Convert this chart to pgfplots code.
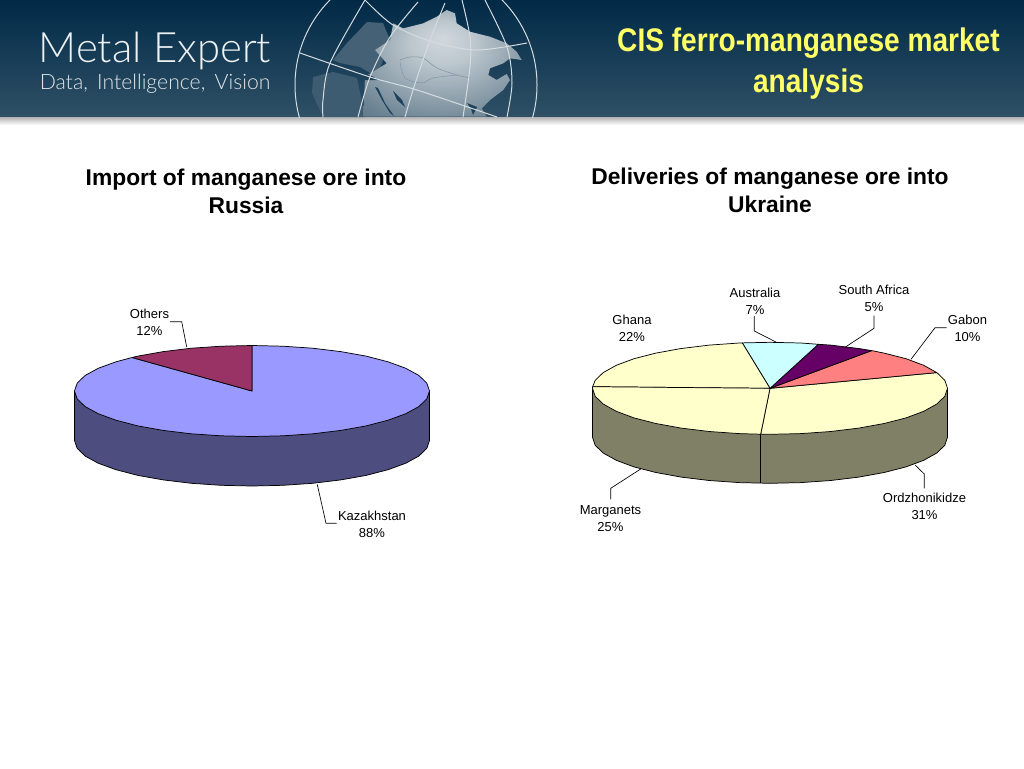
\documentclass[border=0pt]{standalone}
\usepackage{fontspec}
\usepackage{pgfplots}
\pgfplotsset{compat=1.18}
\setmainfont{Liberation Sans}
\newfontfamily\logofont{Lato Light}
\definecolor{pieblue}{HTML}{9999FF}
\definecolor{pieblueside}{HTML}{4D4D80}
\definecolor{plum}{HTML}{993366}
\definecolor{cream}{HTML}{FFFFCC}
\definecolor{creamside}{HTML}{808066}
\definecolor{icy}{HTML}{CCFFFF}
\definecolor{grape}{HTML}{660066}
\definecolor{salmon}{HTML}{FF8080}
\definecolor{titleyellow}{HTML}{FFFF66}
\definecolor{headtop}{HTML}{012A47}
\definecolor{headbot}{HTML}{2F5066}
\definecolor{seadark}{HTML}{1F425C}
\pgfdeclareradialshading{landglow}{\pgfpoint{0bp}{12bp}}{%
  color(0bp)=(white!78!headbot); color(10bp)=(white!68!headbot);
  color(22bp)=(white!48!headbot); color(34bp)=(white!28!headbot); color(50bp)=(white!12!headbot)}
\begin{document}
\begin{tikzpicture}[
  pie/.style={draw=black, line width=0.55pt, line join=round},
  leader/.style={draw=black, line width=0.5pt},
  grid line/.style={draw=white!80!headbot, line width=0.75pt, smooth},
  border line/.style={draw=white!40!headbot, line width=0.4pt, smooth},
  lab/.style={align=center, font=\fontsize{9.75}{12.75}\selectfont, inner sep=0pt},
  subtitle/.style={align=center, font=\fontsize{17.1}{21}\selectfont\bfseries, inner sep=0pt},
]
\begin{axis}[
  width=768pt, height=576pt, scale only axis,
  xmin=0, xmax=1024, ymin=0, ymax=768, y dir=reverse,
  hide axis, clip=true,
]
% page background and banner
\fill[white] (axis cs:0,0) rectangle (axis cs:1024,768);
\shade[top color=headtop, bottom color=headbot] (axis cs:0,0) rectangle (axis cs:1024,117);
\shade[top color=black!30, bottom color=white] (axis cs:0,117) rectangle (axis cs:1024,125);
% globe
\begin{scope}
\clip (axis cs:0,0) rectangle (axis cs:1024,117.5);
\addplot[fill=white!7!headbot, draw=none] coordinates {
  (313,77) (333,72) (357,78) (365,117) (323,117) (312,93)} -- cycle;
\addplot[fill=white!10!headbot, draw=none] coordinates {
  (333,60) (347,43) (367,22) (383,23) (390,40) (375,50) (383,60) (377,77) (360,67) (340,63)} -- cycle;
\shade[shading=landglow, draw=none]
  (axis cs:375,50) -- (axis cs:390,40) -- (axis cs:393.3,23.3) -- (axis cs:403.3,28.3) -- (axis cs:423.3,23.3)
  -- (axis cs:436.7,16.7) -- (axis cs:446.7,10) -- (axis cs:455,13.3) -- (axis cs:456.7,23.3) -- (axis cs:470,31.7)
  -- (axis cs:490,36.7) -- (axis cs:506.7,43.3) -- (axis cs:516.7,51.7) -- (axis cs:521.7,60) -- (axis cs:510,58.3)
  -- (axis cs:503.3,63.3) -- (axis cs:490,68.3) -- (axis cs:488.3,75) -- (axis cs:496.7,80) -- (axis cs:506.7,74)
  -- (axis cs:510,80) -- (axis cs:503.3,90) -- (axis cs:490,100) -- (axis cs:481.7,108.3) -- (axis cs:486.7,116.7)
  -- (axis cs:363.3,116.7) -- (axis cs:365,76.7) -- (axis cs:386.7,63.3) -- cycle;
% gulfs and inner seas
\addplot[fill=seadark, draw=none] coordinates {(375,87) (382,100) (390,113) (394,116) (385,103) (378,88)} -- cycle;
\addplot[fill=seadark, draw=none] coordinates {(393,91) (402,100) (405,107) (397,100)} -- cycle;
\addplot[fill=seadark, draw=none] coordinates {(467,103) (477,107) (473,115) (471,109)} -- cycle;
\addplot[fill=seadark, draw=none] coordinates {(360,72) (372,76) (378,80) (365,80)} -- cycle;
% borders inside the land
\addplot[border line] coordinates {(400,60) (410,57) (423,58) (437,68) (457,75) (470,78)};
\addplot[border line] coordinates {(400,62) (405,78) (422,83) (433,78) (457,75)};
\draw[white!80!headbot, line width=0.75pt] (axis cs:416,85) circle [radius=121];
\addplot[grid line] coordinates {(365,0) (330,63) (323,100) (323,117)};
\addplot[grid line] coordinates {(418,2) (390,37) (370,77) (358,117)};
\addplot[grid line] coordinates {(445,3) (430,40) (413,90) (405,117)};
\addplot[grid line] coordinates {(462,0) (470,37) (470,67) (463,117)};
\addplot[grid line] coordinates {(485,0) (507,47) (512,83) (507,117)};
\addplot[grid line] coordinates {(300,53) (370,77) (417,90) (497,117)};
\addplot[grid line] coordinates {(365,0) (393,25) (433,42) (477,50) (527,43)};
\end{scope}
% banner text
\node[anchor=base west, inner sep=0pt, text=white!92!headbot, font=\logofont\fontsize{31.4}{30}\selectfont] at (axis cs:38.5,62) {Metal Expert};
\node[anchor=base west, inner sep=0pt, text=white!85!headbot, font=\logofont\fontsize{15.9}{15.5}\selectfont] at (axis cs:39.5,89) {Data,\, Intelligence,\, Vision};
\node[anchor=center, align=center, inner sep=0pt, text=titleyellow, xscale=0.86,
  font=\fontsize{24.5}{30.75}\selectfont\bfseries] at (axis cs:808.5,63.5) {CIS ferro-manganese market\\analysis};
% titles of the two pies
\node[subtitle] at (axis cs:246,191) {Import of manganese ore into\\Russia};
\node[subtitle] at (axis cs:770,190) {Deliveries of manganese ore into\\Ukraine};

% Russia pie: side wall
\addplot[pie, fill=pieblueside] coordinates {
  (74.5,391) (74.5,440.5) (77.2,448.4) (85.2,456.1) (98.3,463.25) (116,469.7) (137.9,475.4)
  (163.25,479.9) (191.3,483.3) (221.2,485.3) (252,486) (282.8,485.3) (312.7,483.3) (340.75,479.9)
  (366.1,475.4) (388,469.7) (405.7,463.25) (418.8,456.1) (426.8,448.4) (429.5,440.5) (429.5,391)} -- cycle;
% Kazakhstan 88%
\addplot[pie, fill=pieblue] coordinates {
  (252,391) (252,345.5) (282.8,346.2) (312.7,348.2) (340.75,351.6) (366.1,356.1) (388,361.8)
  (405.7,368.25) (418.8,375.4) (426.8,383.1) (429.5,391) (426.8,398.9) (418.8,406.6) (405.7,413.75)
  (388,420.2) (366.1,425.9) (340.75,430.4) (312.7,433.8) (282.8,435.8) (252,436.5) (221.2,435.8)
  (191.3,433.8) (163.25,430.4) (137.9,425.9) (116,420.2) (98.3,413.75) (85.2,406.6) (77.2,398.9)
  (74.5,391) (77.2,383.1) (85.2,375.4) (98.3,368.25) (116,361.8) (132,357.5)} -- cycle;
% Others 12%
\addplot[pie, fill=plum] coordinates {
  (252,391) (132,357.5) (137.9,356.1) (163.25,351.6) (191.3,348.2) (221.2,346.2) (252,345.5)} -- cycle;
\addplot[leader] coordinates {(170,321.7) (181.7,321.7) (186.7,347)};
\addplot[leader] coordinates {(317.3,484.5) (326,523.3) (336.7,523.3)};
\node[lab] at (axis cs:149.5,322) {Others\\12\%};
\node[lab] at (axis cs:372,524) {Kazakhstan\\88\%};

% Ukraine pie: side wall
\addplot[pie, fill=creamside] coordinates {
  (592.5,388.3) (592.5,437.3) (595.2,445.3) (603.2,453) (616.3,460.3) (634,466.9) (655.9,472.5)
  (681.25,477.1) (709.3,480.5) (739.2,482.6) (770,483.3) (800.8,482.6) (830.7,480.5) (858.75,477.1)
  (884.1,472.5) (906,466.9) (923.7,460.3) (936.8,453) (944.8,445.3) (947.5,437.3) (947.5,388.3)} -- cycle;
\addplot[leader] coordinates {(760.7,434.2) (760.7,483.2)};
% Ordzhonikidze 31%
\addplot[pie, fill=cream] coordinates {
  (770,388.3) (760.7,434.2) (770,434.3) (800.8,433.6) (830.7,431.5) (858.75,428.1) (884.1,423.5)
  (906,417.9) (923.7,411.3) (936.8,404) (944.8,396.3) (947.5,388.3) (944.8,380.3) (936.8,372.6)} -- cycle;
% Gabon 10%
\addplot[pie, fill=salmon] coordinates {
  (770,388.3) (936.8,372.6) (923.7,365.3) (906,358.7) (884.1,353.1) (871.7,350.6)} -- cycle;
% South Africa 5%
\addplot[pie, fill=grape] coordinates {
  (770,388.3) (871.7,350.6) (858.75,348.5) (830.7,345.1) (818.3,344.3)} -- cycle;
% Australia 7%
\addplot[pie, fill=icy] coordinates {
  (770,388.3) (818.3,344.3) (800.8,343) (770,342.3) (742.3,342.9)} -- cycle;
% Ghana 22%
\addplot[pie, fill=cream] coordinates {
  (770,388.3) (742.3,342.9) (739.2,343) (709.3,345.1) (681.25,348.5) (655.9,353.1) (634,358.7)
  (616.3,365.3) (603.2,372.6) (595.2,380.3) (592.6,386.7)} -- cycle;
% Marganets 25%
\addplot[pie, fill=cream] coordinates {
  (770,388.3) (592.6,386.7) (592.5,388.3) (595.2,396.3) (603.2,404) (616.3,411.3) (634,417.9)
  (655.9,423.5) (681.25,428.1) (709.3,431.5) (739.2,433.6) (760.7,434.2)} -- cycle;
\addplot[leader] coordinates {(754.3,316) (754.3,331) (777.3,342.7)};
\addplot[leader] coordinates {(874,315.5) (874,328.3) (845,347.3)};
\addplot[leader] coordinates {(946.7,327.7) (935,327.7) (911,359.3)};
\addplot[leader] coordinates {(915,465) (924.3,474) (924.3,488.3)};
\addplot[leader] coordinates {(640.7,469) (610.7,488.3) (610.7,499.3)};
\node[lab] at (axis cs:755,301) {Australia\\7\%};
\node[lab] at (axis cs:874,298) {South Africa\\5\%};
\node[lab] at (axis cs:967.5,328) {Gabon\\10\%};
\node[lab] at (axis cs:632,328) {Ghana\\22\%};
\node[lab] at (axis cs:610.5,519) {Marganets\\25\%};
\node[lab] at (axis cs:924.5,506) {Ordzhonikidze\\31\%};
\end{axis}
\end{tikzpicture}
\end{document}
